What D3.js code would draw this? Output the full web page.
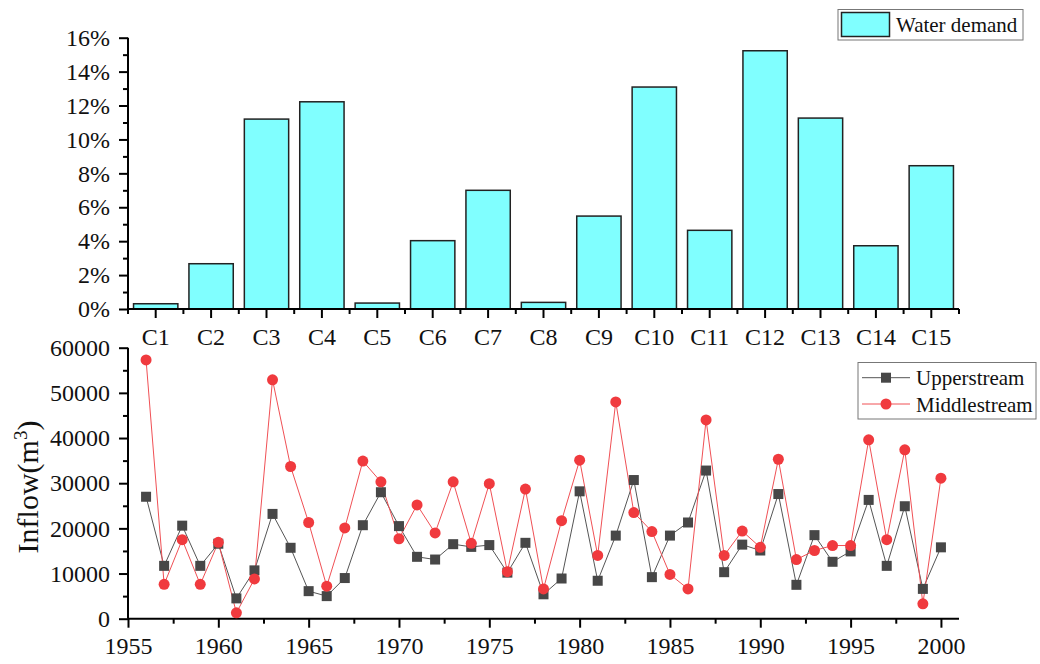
<!DOCTYPE html>
<html>
<head>
<meta charset="utf-8">
<script src="https://cdn.jsdelivr.net/npm/d3@7"></script>
<style>
  html, body { margin: 0; padding: 0; background: #fff; }
  svg text { font-family: "Liberation Serif", "Times New Roman", serif; fill: #111; }
</style>
</head>
<body>
<svg id="chart" width="1040" height="664"></svg>
<script>
// ---- Data ----
const categories = ["C1","C2","C3","C4","C5","C6","C7","C8","C9","C10","C11","C12","C13","C14","C15"];
const waterDemand = [0.31, 2.67, 11.2, 12.22, 0.35, 4.03, 7.0, 0.39, 5.48, 13.09, 4.64, 15.23, 11.26, 3.73, 8.45];
const percentTicks = [0, 2, 4, 6, 8, 10, 12, 14, 16];

const years = [1956,1957,1958,1959,1960,1961,1962,1963,1964,1965,1966,1967,1968,1969,1970,
  1971,1972,1973,1974,1975,1976,1977,1978,1979,1980,1981,1982,1983,1984,1985,
  1986,1987,1988,1989,1990,1991,1992,1993,1994,1995,1996,1997,1998,1999,2000];
const upperstream = [27000, 11700, 20600, 11700, 16600, 4500, 10700, 23200, 15700, 6100, 5000, 9000,
  20700, 28000, 20500, 13700, 13100, 16500, 15900, 16300, 10200, 16800, 5400, 8900,
  28200, 8400, 18400, 30700, 9200, 18400, 21300, 32800, 10300, 16400, 15100, 27600,
  7500, 18500, 12600, 14900, 26300, 11700, 24900, 6600, 15800];
const middlestream = [57300, 7600, 17500, 7600, 16900, 1300, 8800, 52900, 33700, 21300, 7200, 20100,
  34900, 30300, 17700, 25200, 19000, 30300, 16700, 29900, 10400, 28700, 6600, 21700,
  35100, 14000, 48000, 23500, 19300, 9800, 6600, 44000, 14000, 19400, 15800, 35300,
  13100, 15100, 16200, 16200, 39600, 17500, 37400, 3300, 31100];
const yearTicks = [1955, 1960, 1965, 1970, 1975, 1980, 1985, 1990, 1995, 2000];
const yearMinorTicks = [1957.5, 1962.5, 1967.5, 1972.5, 1977.5, 1982.5, 1987.5, 1992.5, 1997.5];
const inflowTicks = [0, 10000, 20000, 30000, 40000, 50000, 60000];

const svg = d3.select("#chart");
const FS = 24;
const AX = 2;

// ================= TOP: bar chart =================
const x1 = d3.scaleBand().domain(categories).range([128, 959]).paddingInner(0.2).paddingOuter(0.1);
const y1 = d3.scaleLinear().domain([0, 16]).range([309, 37.7]);

const gTop = svg.append("g");
gTop.selectAll("rect.bar").data(waterDemand).join("rect")
  .attr("class", "bar")
  .attr("x", (d, i) => x1(categories[i]))
  .attr("width", x1.bandwidth())
  .attr("y", d => y1(d))
  .attr("height", d => y1(0) - y1(d))
  .attr("fill", "#80FFFF")
  .attr("stroke", "#222")
  .attr("stroke-width", 1.5);

// y axis
const yAx1 = d3.axisLeft(y1).tickValues(percentTicks).tickFormat(d => d + "%").tickSize(9).tickPadding(9);
const gy1 = gTop.append("g").attr("transform", "translate(128,0)").call(yAx1);
gy1.select(".domain").attr("stroke-width", AX).attr("d", `M0,${y1(16)}V${y1(0)}`);
gy1.selectAll(".tick line").attr("stroke-width", AX);
gy1.selectAll(".tick text").attr("font-size", FS).attr("font-family", "Liberation Serif").attr("fill", "#111");
// minor ticks
const gy1m = d3.axisLeft(y1).tickValues([1, 3, 5, 7, 9, 11, 13, 15]).tickFormat("").tickSize(5);
gTop.append("g").attr("transform", "translate(128,0)").call(gy1m)
  .call(g => g.select(".domain").remove())
  .call(g => g.selectAll(".tick line").attr("stroke-width", AX));

// x axis
const xAx1 = d3.axisBottom(x1).tickSize(9).tickPadding(10);
const gx1 = gTop.append("g").attr("transform", "translate(0,309)").call(xAx1);
gx1.select(".domain").attr("stroke-width", AX).attr("d", `M128,0H959`);
gx1.selectAll(".tick line").attr("stroke-width", AX);
gx1.selectAll(".tick text").attr("font-size", FS).attr("font-family", "Liberation Serif").attr("fill", "#111");
// boundary minor ticks
const step = x1.step();
const bounds = categories.map((c, i) => x1(c) - x1.paddingInner() * step / 2);
bounds.push(959);
gTop.append("g").selectAll("line").data(bounds).join("line")
  .attr("x1", d => d).attr("x2", d => d)
  .attr("y1", 309).attr("y2", 314)
  .attr("stroke", "#000").attr("stroke-width", AX);

// legend top
const lg1 = gTop.append("g");
lg1.append("rect").attr("x", 838).attr("y", 9.5).attr("width", 185).attr("height", 30.5)
  .attr("fill", "#fff").attr("stroke", "#777").attr("stroke-width", 1);
lg1.append("rect").attr("x", 841.5).attr("y", 12.5).attr("width", 48).attr("height", 24)
  .attr("fill", "#80FFFF").attr("stroke", "#222").attr("stroke-width", 1.5);
lg1.append("text").attr("x", 896).attr("y", 32).attr("font-size", 21).text("Water demand");

// ================= BOTTOM: line chart =================
const x2 = d3.scaleLinear().domain([1955, 2001]).range([128, 959]);
const y2 = d3.scaleLinear().domain([0, 60000]).range([618.7, 347.7]);

const gBot = svg.append("g");
const yAx2 = d3.axisLeft(y2).tickValues(inflowTicks).tickFormat(d3.format("d")).tickSize(9).tickPadding(9);
const gy2 = gBot.append("g").attr("transform", "translate(128,0)").call(yAx2);
gy2.select(".domain").attr("stroke-width", AX).attr("d", `M0,${y2(60000)}V${y2(0)}`);
gy2.selectAll(".tick line").attr("stroke-width", AX);
gy2.selectAll(".tick text").attr("font-size", FS).attr("font-family", "Liberation Serif").attr("fill", "#111");
const yAx2m = d3.axisLeft(y2).tickValues([5000, 15000, 25000, 35000, 45000, 55000]).tickFormat("").tickSize(5);
gBot.append("g").attr("transform", "translate(128,0)").call(yAx2m)
  .call(g => g.select(".domain").remove())
  .call(g => g.selectAll(".tick line").attr("stroke-width", AX));

const xAx2 = d3.axisBottom(x2).tickValues(yearTicks).tickFormat(d3.format("d")).tickSize(9).tickPadding(9);
const gx2 = gBot.append("g").attr("transform", `translate(0,${y2(0)})`).call(xAx2);
gx2.select(".domain").attr("stroke-width", AX).attr("d", `M128,0H959`);
gx2.selectAll(".tick line").attr("stroke-width", AX);
gx2.selectAll(".tick text").attr("font-size", FS).attr("font-family", "Liberation Serif").attr("fill", "#111");
const xAx2m = d3.axisBottom(x2).tickValues(yearMinorTicks).tickFormat("").tickSize(5);
gBot.append("g").attr("transform", `translate(0,${y2(0)})`).call(xAx2m)
  .call(g => g.select(".domain").remove())
  .call(g => g.selectAll(".tick line").attr("stroke-width", AX));

// y title
gBot.append("text")
  .attr("transform", "translate(38,487) rotate(-90)")
  .attr("text-anchor", "middle")
  .attr("font-size", 30)
  .call(t => {
    t.append("tspan").text("Inflow(m");
    t.append("tspan").attr("dy", -11).attr("font-size", 19).text("3");
    t.append("tspan").attr("dy", 11).text(")");
  });

const upColor = "#474747", upLine = "#555";
const midColor = "#F03A3E", midLine = "#F05055";

const line = d3.line().x((d, i) => x2(years[i])).y(d => y2(d));
gBot.append("path").datum(upperstream).attr("d", line)
  .attr("fill", "none").attr("stroke", upLine).attr("stroke-width", 1);
gBot.append("path").datum(middlestream).attr("d", line)
  .attr("fill", "none").attr("stroke", midLine).attr("stroke-width", 1);

gBot.selectAll("rect.up").data(upperstream).join("rect")
  .attr("class", "up")
  .attr("x", (d, i) => x2(years[i]) - 5).attr("y", d => y2(d) - 5)
  .attr("width", 10).attr("height", 10)
  .attr("fill", upColor);
gBot.selectAll("circle.mid").data(middlestream).join("circle")
  .attr("class", "mid")
  .attr("cx", (d, i) => x2(years[i])).attr("cy", d => y2(d))
  .attr("r", 5.5)
  .attr("fill", midColor);

// legend bottom
const lg2 = gBot.append("g");
lg2.append("rect").attr("x", 858).attr("y", 362.5).attr("width", 178).attr("height", 56.5)
  .attr("fill", "#fff").attr("stroke", "#777").attr("stroke-width", 1);
lg2.append("line").attr("x1", 862).attr("x2", 910).attr("y1", 377.7).attr("y2", 377.7)
  .attr("stroke", upLine).attr("stroke-width", 1);
lg2.append("rect").attr("x", 881).attr("y", 372.7).attr("width", 10).attr("height", 10).attr("fill", upColor);
lg2.append("text").attr("x", 916).attr("y", 385).attr("font-size", 21).text("Upperstream");
lg2.append("line").attr("x1", 862).attr("x2", 910).attr("y1", 404).attr("y2", 404)
  .attr("stroke", midLine).attr("stroke-width", 1);
lg2.append("circle").attr("cx", 886).attr("cy", 404).attr("r", 5.5).attr("fill", midColor);
lg2.append("text").attr("x", 916).attr("y", 411.5).attr("font-size", 21).text("Middlestream");
</script>
</body>
</html>
